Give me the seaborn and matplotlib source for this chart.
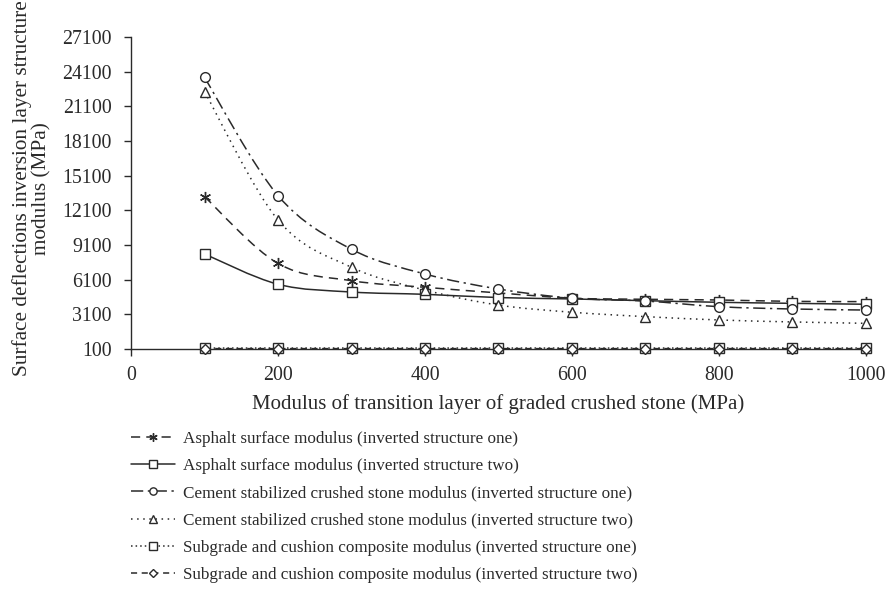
import numpy as np
import pandas as pd
import matplotlib
matplotlib.use("Agg")
import matplotlib.pyplot as plt
from matplotlib.path import Path
from matplotlib.patches import PathPatch
from matplotlib.lines import Line2D
import seaborn as sns

# values
modulus = [100, 200, 300, 400, 500, 600, 700, 800, 900, 1000]
asphalt_one = [13280, 7500, 6010, 5440, 4950, 4500, 4400, 4340, 4220, 4200]
asphalt_two = [8320, 5700, 5030, 4830, 4550, 4430, 4280, 4140, 4050, 3970]
cement_one = [23600, 13370, 8730, 6590, 5290, 4500, 4250, 3760, 3560, 3470]
cement_two = [22370, 11260, 7170, 5200, 3900, 3280, 2900, 2610, 2440, 2320]
subgrade_one = [180, 180, 180, 180, 180, 180, 180, 180, 180, 180]
subgrade_two = [130, 130, 130, 130, 130, 130, 130, 130, 130, 130]

labels = [
    "Asphalt surface modulus (inverted structure one)",
    "Asphalt surface modulus (inverted structure two)",
    "Cement stabilized crushed stone modulus (inverted structure one)",
    "Cement stabilized crushed stone modulus (inverted structure two)",
    "Subgrade and cushion composite modulus (inverted structure one)",
    "Subgrade and cushion composite modulus (inverted structure two)",
]
series = [asphalt_one, asphalt_two, cement_one, cement_two, subgrade_one, subgrade_two]
markers = [(6, 2, 0), "s", "o", "^", "s", "D"]
msizes = [8, 7, 7, 7, 7, 5]
dashes = [(0, (6, 4)), "-", (0, (8, 3, 1.5, 3)), (0, (1, 3)), (0, (1, 2)), (0, (4, 3))]

sns.set_style("white")
plt.rcParams["font.family"] = ["Liberation Serif", "DejaVu Serif"]
plt.rcParams["font.size"] = 14.5

ink = "#2a2a2a"

fig = plt.figure(figsize=(8.87, 5.94), dpi=100)
ax = fig.add_axes([0.1477, 0.4125, 0.8286, 0.5252])

df = pd.DataFrame({"x": modulus * len(series),
                   "y": np.concatenate(series),
                   "s": np.repeat(labels, len(modulus))})


def smooth_path(xs, ys):
    # Excel-style smoothed line (Catmull-Rom as cubic Bezier)
    pts = np.column_stack([xs, ys]).astype(float)
    ext = np.vstack([pts[0], pts, pts[-1]])
    verts = [pts[0]]
    codes = [Path.MOVETO]
    for i in range(1, len(ext) - 2):
        p0, p1, p2, p3 = ext[i - 1], ext[i], ext[i + 1], ext[i + 2]
        verts += [p1 + (p2 - p0) / 6, p2 - (p3 - p1) / 6, p2]
        codes += [Path.CURVE4] * 3
    return Path(verts, codes)


handles = []
for lab, vals, mk, ms, ls in zip(labels, series, markers, msizes, dashes):
    sub = df[df["s"] == lab]
    ax.add_patch(PathPatch(smooth_path(sub["x"], sub["y"]), fill=False,
                           edgecolor=ink, lw=1.1, linestyle=ls, zorder=2))
    sns.lineplot(data=sub, x="x", y="y", ax=ax, marker=mk, markersize=ms,
                 linestyle="none", color=ink, markerfacecolor="white",
                 markeredgecolor=ink, markeredgewidth=1.0, clip_on=False,
                 legend=False, zorder=3)
    handles.append(Line2D([], [], color=ink, lw=1.1, linestyle=ls, marker=mk,
                          markersize=ms * 0.75, markerfacecolor="white",
                          markeredgecolor=ink, label=lab))

ax.set_xlim(0, 1000)
ax.set_ylim(100, 27100)
ax.set_xticks(range(0, 1001, 200))
ax.set_yticks(range(100, 27101, 3000))
sns.despine(ax=ax)
for sp in ["left", "bottom"]:
    ax.spines[sp].set_color(ink)
    ax.spines[sp].set_linewidth(1.0)
ax.tick_params(axis="both", direction="out", length=5, width=1.0, color=ink,
               labelcolor=ink, labelsize=14.3, left=True, bottom=True)
ax.tick_params(axis="y", pad=9)
ax.tick_params(axis="x", pad=7)
ax.set_xlabel("Modulus of transition layer of graded crushed stone (MPa)",
              color=ink, fontsize=15, labelpad=7)
ax.set_ylabel("Surface deflections inversion layer structure\nmodulus (MPa)",
              color=ink, fontsize=15.3, linespacing=1.05)
ax.yaxis.set_label_coords(-0.108, 0.515)

fig.legend(handles=handles, loc="upper left", bbox_to_anchor=(0.130, 0.30),
           frameon=False, fontsize=12.3, handlelength=2.6, handletextpad=0.45,
           labelspacing=0.65, labelcolor=ink)

fig.savefig("out.png", dpi=100)
